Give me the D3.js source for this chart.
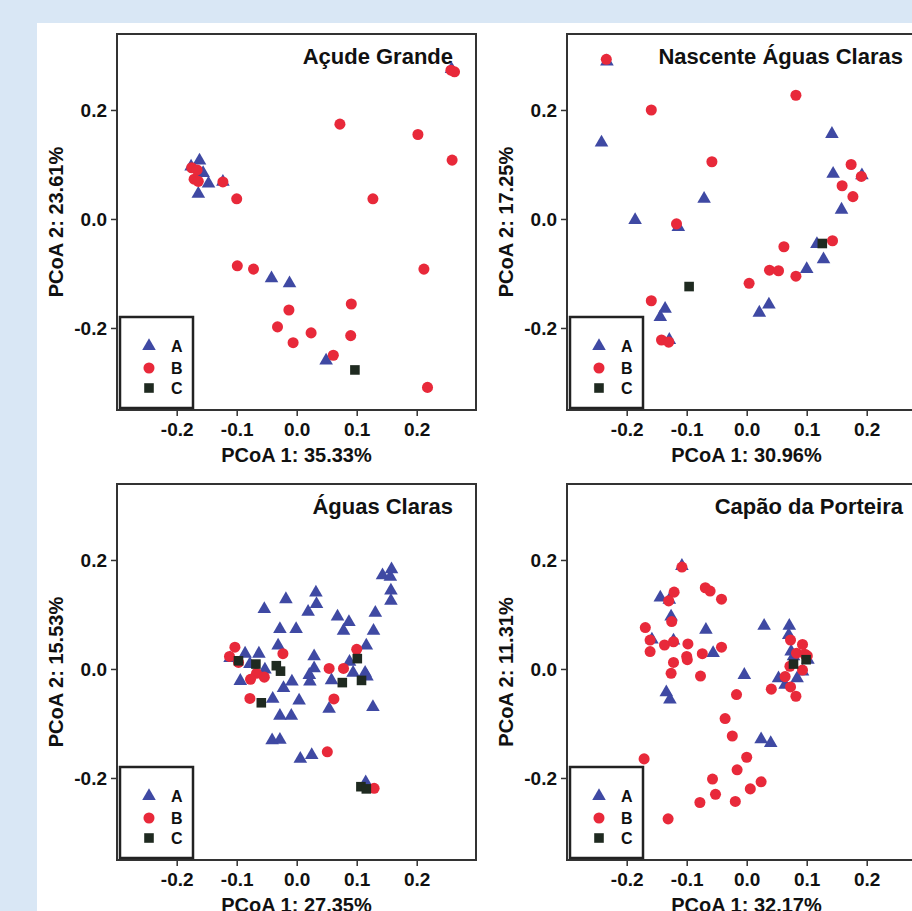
<!DOCTYPE html>
<html>
<head>
<meta charset="utf-8">
<script src="https://cdn.jsdelivr.net/npm/d3@7"></script>
<style>
  html, body { margin: 0; padding: 0; background: #d9e7f5; }
  svg { display: block; }
  text { font-family: "Liberation Sans", Arial, Helvetica, sans-serif; font-weight: bold; fill: #111; }
</style>
</head>
<body>
<div id="chart"></div>
<script>
// panel titles and axis labels
const titles = ["Açude Grande", "Nascente Águas Claras", "Águas Claras", "Capão da Porteira"];
const xLabels = ["PCoA 1: 35.33%", "PCoA 1: 30.96%", "PCoA 1: 27.35%", "PCoA 1: 32.17%"];
const yLabels = ["PCoA 2: 23.61%", "PCoA 2: 17.25%", "PCoA 2: 15.53%", "PCoA 2: 11.31%"];
const groups = ["A", "B", "C"];
const xTicks = [-0.2, -0.1, 0.0, 0.1, 0.2];
const yTicks = [-0.2, 0.0, 0.2];

// Açude Grande
const acudeA = [[0.258,0.275],[-0.162,0.107],[-0.176,0.096],[-0.156,0.084],[-0.147,0.065],[-0.123,0.068],
  [-0.164,0.046],[-0.042,-0.109],[-0.012,-0.118],[0.049,-0.260]];
const acudeB = [[0.257,0.273],[0.263,0.270],[0.072,0.174],[0.202,0.155],[0.259,0.108],[-0.175,0.094],
  [-0.166,0.090],[-0.171,0.073],[-0.164,0.069],[-0.123,0.068],[-0.100,0.037],[0.127,0.037],
  [-0.099,-0.086],[-0.072,-0.092],[0.212,-0.092],[-0.013,-0.167],[0.091,-0.156],[-0.032,-0.198],
  [0.024,-0.209],[0.090,-0.214],[-0.006,-0.227],[0.061,-0.250],[0.218,-0.309]];
const acudeC = [[0.097,-0.277]];

// Nascente Águas Claras
const nascenteA = [[-0.233,0.289],[-0.242,0.140],[-0.186,-0.002],[-0.071,0.037],[-0.114,-0.015],
  [0.142,0.156],[0.144,0.083],[0.192,0.080],[0.158,0.017],[0.117,-0.046],[0.128,-0.074],
  [0.100,-0.092],[0.037,-0.157],[0.021,-0.172],[-0.136,-0.165],[-0.144,-0.180],[-0.129,-0.222]];
const nascenteB = [[-0.234,0.293],[-0.159,0.200],[0.082,0.227],[-0.058,0.105],[0.174,0.100],
  [0.191,0.078],[0.159,0.061],[0.177,0.041],[-0.117,-0.009],[0.143,-0.040],[0.062,-0.051],
  [0.038,-0.094],[0.053,-0.095],[0.082,-0.105],[0.004,-0.118],[-0.159,-0.150],[-0.142,-0.222],
  [-0.130,-0.226]];
const nascenteC = [[0.126,-0.045],[-0.096,-0.124]];

// Águas Claras
const aguasA = [[0.158,0.183],[0.143,0.172],[0.156,0.169],[0.157,0.144],[0.157,0.125],[0.131,0.103],
  [0.128,0.070],[0.116,0.043],[-0.018,0.128],[0.032,0.140],[0.033,0.119],[0.019,0.105],
  [-0.054,0.110],[-0.028,0.073],[-0.001,0.073],[-0.031,0.043],[0.068,0.096],[0.087,0.086],
  [0.078,0.070],[0.029,0.023],[0.029,0.001],[0.021,-0.011],[0.022,-0.023],[0.058,-0.021],
  [0.088,0.013],[0.094,-0.007],[0.114,-0.007],[0.117,-0.014],[-0.008,-0.023],[-0.022,-0.035],
  [0.004,-0.058],[-0.040,-0.055],[-0.028,-0.086],[-0.009,-0.086],[-0.041,-0.131],[-0.028,-0.130],
  [0.006,-0.165],[0.025,-0.158],[0.054,-0.073],[0.127,-0.070],[0.115,-0.208],[-0.094,-0.022],
  [-0.086,0.028],[-0.063,0.028],[-0.111,0.020],[-0.078,0.009],[-0.053,-0.001]];
const aguasB = [[-0.103,0.040],[-0.112,0.023],[-0.097,0.012],[-0.023,0.028],[-0.067,-0.008],
  [-0.077,-0.019],[-0.054,-0.015],[-0.078,-0.054],[0.054,0.001],[0.078,0.001],[0.100,0.036],
  [0.062,-0.055],[0.051,-0.152],[0.129,-0.219]];
const aguasC = [[-0.097,0.015],[-0.068,0.009],[-0.034,0.006],[-0.027,-0.004],[-0.059,-0.062],
  [0.076,-0.025],[0.101,0.019],[0.108,-0.021],[0.107,-0.216],[0.116,-0.220]];

// Capão da Porteira
const capaoA = [[-0.108,0.189],[-0.144,0.131],[-0.129,0.127],[-0.126,0.096],[-0.158,0.054],
  [-0.122,0.052],[-0.068,0.072],[-0.056,0.029],[-0.134,-0.043],[-0.128,-0.056],[-0.004,-0.011],
  [0.029,0.079],[0.071,0.079],[0.070,0.062],[0.074,0.032],[0.078,0.023],[0.053,-0.017],
  [0.064,-0.029],[0.084,-0.017],[0.093,-0.005],[0.102,0.017],[0.024,-0.129],[0.040,-0.136]];
const capaoB = [[-0.108,0.187],[-0.121,0.141],[-0.130,0.125],[-0.125,0.087],[-0.069,0.149],
  [-0.061,0.143],[-0.042,0.128],[-0.169,0.076],[-0.161,0.053],[-0.161,0.032],[-0.137,0.044],
  [-0.122,0.050],[-0.098,0.046],[-0.100,0.023],[-0.099,0.017],[-0.122,0.012],[-0.074,0.028],
  [-0.042,0.040],[-0.126,-0.008],[-0.077,-0.013],[-0.017,-0.047],[-0.036,-0.091],[-0.024,-0.123],
  [0.000,-0.162],[-0.016,-0.185],[-0.057,-0.202],[0.024,-0.207],[0.006,-0.220],[-0.052,-0.230],
  [-0.019,-0.243],[-0.078,-0.245],[-0.171,-0.165],[-0.131,-0.275],[0.041,-0.037],[0.073,0.053],
  [0.093,0.045],[0.083,0.029],[0.097,0.027],[0.072,0.005],[0.093,-0.002],[0.064,-0.014],
  [0.073,-0.033],[0.082,-0.050],[0.101,0.024]];
const capaoC = [[0.078,0.009],[0.099,0.017]];

const panelData = [
  [acudeA, acudeB, acudeC],
  [nascenteA, nascenteB, nascenteC],
  [aguasA, aguasB, aguasC],
  [capaoA, capaoB, capaoC]
];

const colors = ["#3f49a3", "#e8293a", "#1f2a20"];
const symbols = [
  d3.symbol().type(d3.symbolTriangle).size(80),
  d3.symbol().type(d3.symbolCircle).size(96),
  d3.symbol().type(d3.symbolSquare).size(92)
];

const W = 912, H = 911;
const svg = d3.select("#chart").append("svg")
  .attr("width", W)
  .attr("height", H);

// white slide area
svg.append("rect")
  .attr("x", 37).attr("y", 23)
  .attr("width", W - 37).attr("height", H - 23)
  .attr("fill", "#ffffff");

const pw = 359, ph = 376;
const origins = [[117, 34], [567, 34], [117, 484], [567, 484]];
const fmt = d => d.toFixed(1);

panelData.forEach((series, i) => {
  const [ox, oy] = origins[i];
  const x = d3.scaleLinear().domain([-0.2995, 0.2988]).range([0, pw]);
  const y = d3.scaleLinear().domain([-0.3505, 0.3394]).range([ph, 0]);

  const g = svg.append("g").attr("transform", `translate(${ox},${oy})`);

  const xAxis = g.append("g")
    .attr("transform", `translate(0,${ph})`)
    .call(d3.axisBottom(x).tickValues(xTicks).tickFormat(fmt).tickSize(6).tickPadding(7));
  const yAxis = g.append("g")
    .call(d3.axisLeft(y).tickValues(yTicks).tickFormat(fmt).tickSize(6).tickPadding(4));
  [xAxis, yAxis].forEach(a => {
    a.select(".domain").remove();
    a.selectAll("line").attr("stroke", "#333").attr("stroke-width", 1.5);
    a.selectAll("text").attr("font-size", 19).attr("fill", "#111")
      .attr("font-family", "Liberation Sans, Arial, sans-serif").attr("font-weight", "bold");
  });

  // points: A, then B, then C on top
  series.forEach((pts, k) => {
    g.append("g").selectAll("path")
      .data(pts)
      .join("path")
      .attr("d", symbols[k])
      .attr("transform", d => `translate(${x(d[0])},${y(d[1])})`)
      .attr("fill", colors[k]);
  });

  // frame
  g.append("rect")
    .attr("width", pw).attr("height", ph)
    .attr("fill", "none")
    .attr("stroke", "#333")
    .attr("stroke-width", 2);

  g.append("text")
    .attr("x", pw - 23).attr("y", 30)
    .attr("text-anchor", "end")
    .attr("font-size", 22)
    .text(titles[i]);

  g.append("text")
    .attr("x", pw / 2).attr("y", ph + 52)
    .attr("text-anchor", "middle")
    .attr("font-size", 20)
    .text(xLabels[i]);

  g.append("text")
    .attr("transform", `translate(-54,${ph / 2}) rotate(-90)`)
    .attr("text-anchor", "middle")
    .attr("font-size", 20)
    .text(yLabels[i]);

  // legend
  const lg = g.append("g").attr("transform", `translate(3,${ph - 93})`);
  lg.append("rect")
    .attr("width", 73).attr("height", 91)
    .attr("fill", "#fff")
    .attr("stroke", "#222")
    .attr("stroke-width", 2.5);
  groups.forEach((name, k) => {
    const cy = [29, 51, 71][k];
    lg.append("path")
      .attr("d", symbols[k])
      .attr("transform", `translate(29,${cy})`)
      .attr("fill", colors[k]);
    lg.append("text")
      .attr("x", 51).attr("y", cy + 6)
      .attr("font-size", 16)
      .text(name);
  });
});
</script>
</body>
</html>
